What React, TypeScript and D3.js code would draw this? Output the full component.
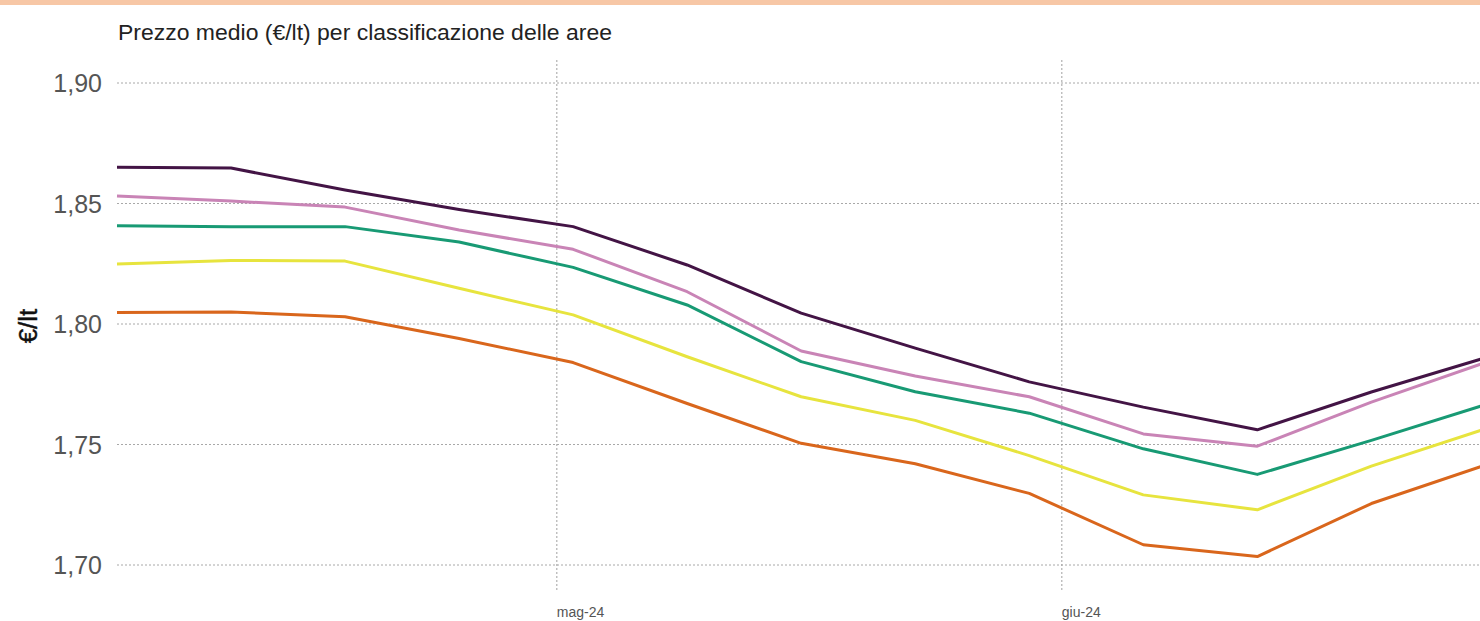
import React from "react";
import * as d3 from "d3";

const dates = [
  "2024-04-04", "2024-04-11", "2024-04-18", "2024-04-25", "2024-05-02",
  "2024-05-09", "2024-05-16", "2024-05-23", "2024-05-30", "2024-06-06",
  "2024-06-13", "2024-06-20", "2024-06-27",
];

const seriesNames = ["A", "B", "C", "D", "E"];

const purpleValues = [1.865, 1.8647, 1.8556, 1.8475, 1.8404, 1.8245, 1.8045, 1.790, 1.7760, 1.7655, 1.7561, 1.7718, 1.786];
const pinkValues = [1.8531, 1.851, 1.8485, 1.839, 1.831, 1.8134, 1.7888, 1.7784, 1.7698, 1.7544, 1.7493, 1.7676, 1.784];
const greenValues = [1.8408, 1.8404, 1.8404, 1.834, 1.8235, 1.8079, 1.7844, 1.7719, 1.7630, 1.7482, 1.7376, 1.7517, 1.7665];
const yellowValues = [1.8249, 1.8264, 1.8261, 1.8148, 1.8038, 1.7864, 1.7698, 1.760, 1.7454, 1.7291, 1.7229, 1.741, 1.7565];
const orangeValues = [1.8048, 1.805, 1.803, 1.794, 1.7840, 1.767, 1.7505, 1.742, 1.7297, 1.7084, 1.7035, 1.7255, 1.7415];

const seriesColors = ["#431445", "#c984b6", "#189a74", "#e7e43e", "#d9661c"];

const yTicks = [1.7, 1.75, 1.8, 1.85, 1.9];
const xTickDates = ["2024-05-01", "2024-06-01"];
const xTickLabels = ["mag-24", "giu-24"];

const title = "Prezzo medio (€/lt) per classificazione delle aree";
const yLabel = "€/lt";

export default function App() {
  const W = 1480;
  const H = 621;
  const parse = d3.utcParse("%Y-%m-%d");
  const x = d3
    .scaleUtc()
    .domain([parse("2024-04-04")!, parse("2024-06-27")!])
    .range([117, 117 + 84 * (505 / 31)]);
  const y = d3.scaleLinear().domain([1.7, 1.9]).range([565, 83]);

  const allSeries = [purpleValues, pinkValues, greenValues, yellowValues, orangeValues];
  const line = d3
    .line<[Date, number]>()
    .x((d) => x(d[0]))
    .y((d) => y(d[1]));

  const fmt = (v: number) => d3.format(".2f")(v).replace(".", ",");

  return (
    <svg
      width={W}
      height={H}
      style={{ position: "absolute", left: 0, top: 0, background: "#fff" }}
      fontFamily="'Liberation Sans', Arial, sans-serif"
    >
      <defs>
        <clipPath id="plotclip">
          <rect x={0} y={0} width={W} height={H} />
        </clipPath>
      </defs>
      <rect x={0} y={0} width={W} height={5} fill="#f7c7a6" />
      <text x={118} y={40} fontSize={22.5} fill="#222" textLength={494} lengthAdjust="spacingAndGlyphs">
        {title}
      </text>
      {yTicks.map((t) => (
        <g key={t}>
          <line
            x1={117}
            x2={W}
            y1={y(t)}
            y2={y(t)}
            stroke="#a8a8a8"
            strokeWidth={1}
            strokeDasharray="2 2"
          />
          <text
            x={102}
            y={y(t)}
            dy="0.36em"
            textAnchor="end"
            fontSize={25}
            fill="#555"
          >
            {fmt(t)}
          </text>
        </g>
      ))}
      {xTickDates.map((d, i) => {
        const xx = x(parse(d)!);
        return (
          <g key={d}>
            <line
              x1={xx}
              x2={xx}
              y1={60}
              y2={592}
              stroke="#a0a0a0"
              strokeWidth={1}
              strokeDasharray="2 2"
            />
            <text x={xx} y={617} fontSize={14} fill="#555">
              {xTickLabels[i]}
            </text>
          </g>
        );
      })}
      <text
        transform={`translate(37,${y(1.8) + 2}) rotate(-90)`}
        textAnchor="middle"
        fontSize={26}
        fill="#111"
        stroke="#111"
        strokeWidth={0.4}
      >
        {yLabel}
      </text>
      <g clipPath="url(#plotclip)">
        {allSeries.map((vals, si) => {
          const pts: [Date, number][] = vals.map((v, i) => [parse(dates[i])!, v]);
          return (
            <path
              key={seriesNames[si]}
              d={line(pts) || ""}
              fill="none"
              stroke={seriesColors[si]}
              strokeWidth={3}
              strokeLinejoin="round"
            />
          );
        })}
      </g>
    </svg>
  );
}
